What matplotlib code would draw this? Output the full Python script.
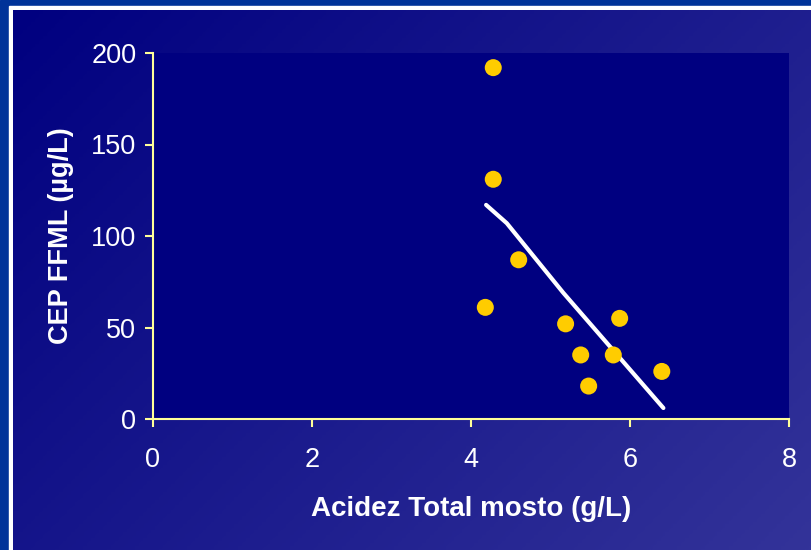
import numpy as np
import matplotlib.pyplot as plt
from matplotlib.colors import LinearSegmentedColormap
from matplotlib.patches import Rectangle

plt.rcParams['font.family'] = ['Liberation Sans', 'DejaVu Sans']

# data
acidez = [4.28, 4.28, 4.60, 4.18, 5.19, 5.87, 5.38, 5.79, 6.40, 5.48]
cep = [192, 131, 87, 61, 52, 55, 35, 35, 26, 18]

# trend line as drawn
trend_x = [4.19, 4.45, 5.16, 6.42]
trend_y = [117, 107, 69, 6]

W, H = 811, 550
fig = plt.figure(figsize=(W / 100, H / 100), dpi=100)

# slide-like background with white frame and diagonal gradient
bg = fig.add_axes([0, 0, 1, 1])
bg.axis('off')
bg.add_patch(Rectangle((0, 0), W, H, color='#003399'))
bg.add_patch(Rectangle((9, 6), W, H, color='white'))
gx, gy = np.meshgrid(np.linspace(0, 1, 200), np.linspace(0, 1, 200))
grad = (gx * 0.6 + gy * 0.4)
cmap = LinearSegmentedColormap.from_list('bg', ['#000080', '#333399'])
bg.imshow(grad, cmap=cmap, extent=(13, W, H, 10), aspect='auto', zorder=2)
bg.set_xlim(0, W)
bg.set_ylim(H, 0)

ax = fig.add_axes([153 / W, (H - 419) / H, 636 / W, 366 / H])
ax.set_facecolor('#000080')
ax.plot(trend_x, trend_y, color='white', lw=3, solid_capstyle='round', zorder=2)
ax.scatter(acidez, cep, s=150, color='#FFCC00', edgecolors='none', zorder=3)

ax.set_xlim(0, 8)
ax.set_ylim(0, 200)
ax.set_xticks([0, 2, 4, 6, 8])
ax.set_yticks([0, 50, 100, 150, 200])
for s in ['top', 'right']:
    ax.spines[s].set_visible(False)
for s in ['left', 'bottom']:
    ax.spines[s].set_color('#FFFF99')
    ax.spines[s].set_linewidth(1.5)
ax.tick_params(colors='#FFFF99', length=6, width=1.5, labelsize=19.5,
               labelcolor='white', pad=6)
ax.tick_params(axis='x', pad=14)

ax.set_xlabel('Acidez Total mosto (g/L)', fontsize=20, fontweight='bold',
              color='white', labelpad=17)
ax.set_ylabel('CEP FFML (µg/L)', fontsize=19.5, fontweight='bold',
              color='white', labelpad=12)

fig.savefig('out.png', dpi=100)
